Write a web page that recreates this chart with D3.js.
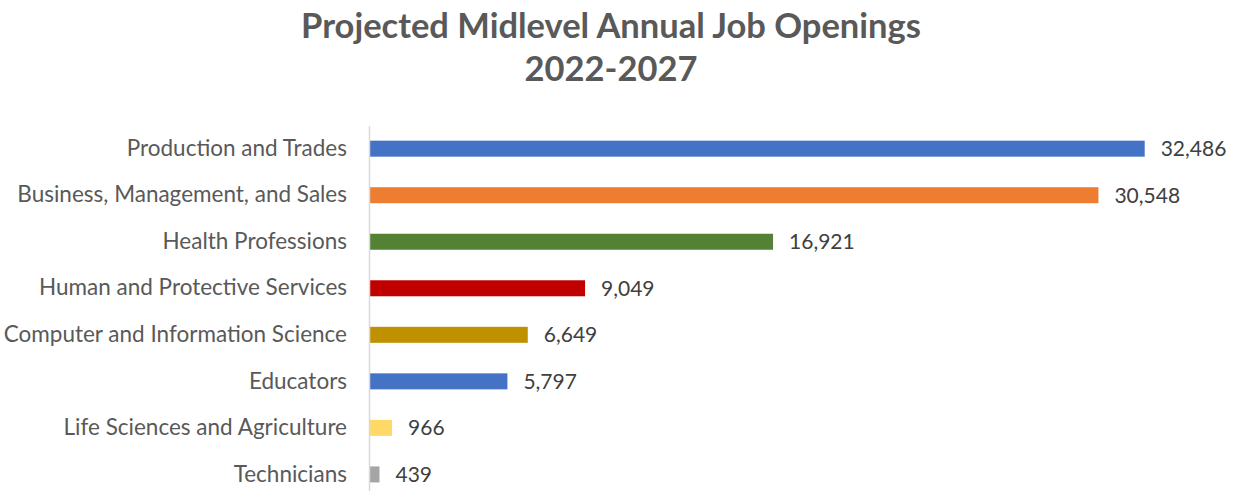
<!DOCTYPE html>
<html>
<head>
<meta charset="utf-8">
<script src="https://cdn.jsdelivr.net/npm/d3@7"></script>
<style>
 body { margin: 0; background: #fff; }
 svg { display: block; }
</style>
</head>
<body>
<div id="chart"></div>
<script>
var categories = ["Production and Trades", "Business, Management, and Sales", "Health Professions",
  "Human and Protective Services", "Computer and Information Science", "Educators",
  "Life Sciences and Agriculture", "Technicians"];
var openings = [32486, 30548, 16921, 9049, 6649, 5797, 966, 439];
var barColors = ["#4472C4", "#ED7D31", "#548235", "#C00000", "#BF9000", "#4472C4", "#FFD966", "#A5A5A5"];
var titleLines = ["Projected Midlevel Annual Job Openings", "2022-2027"];

var width = 1234, height = 491;
var axisX = 369;

var data = categories.map(function(c, i) { return {name: c, value: openings[i], color: barColors[i]}; });

var x = d3.scaleLinear()
  .domain([0, 32486])
  .range([axisX, 1144.7]);
var y = d3.scaleBand()
  .domain(categories)
  .range([125.4, 497.7])
  .paddingInner(0.656)
  .paddingOuter(0.328);

var svg = d3.select("#chart").append("svg")
  .attr("width", width)
  .attr("height", height);

// title
svg.selectAll(".title")
  .data(titleLines)
  .enter().append("text")
  .attr("class", "title")
  .attr("x", 611)
  .attr("y", function(d, i) { return 38 + i * 43; })
  .attr("text-anchor", "middle")
  .style("font-family", "Lato, 'Open Sans', sans-serif")
  .style("font-weight", "bold")
  .style("font-size", "34.5px")
  .style("fill", "#595959")
  .text(function(d) { return d; });

// bars
svg.selectAll(".bar")
  .data(data)
  .enter().append("rect")
  .attr("class", "bar")
  .attr("x", x(0))
  .attr("y", function(d) { return y(d.name); })
  .attr("width", function(d) { return x(d.value) - x(0); })
  .attr("height", y.bandwidth())
  .style("fill", function(d) { return d.color; });

// value labels
svg.selectAll(".val")
  .data(data)
  .enter().append("text")
  .attr("class", "val")
  .attr("x", function(d) { return x(d.value) + 16; })
  .attr("y", function(d) { return y(d.name) + y.bandwidth() / 2; })
  .attr("dy", "0.35em")
  .style("font-family", "Lato, 'Open Sans', sans-serif")
  .style("font-size", "21px")
  .style("fill", "#404040")
  .text(function(d) { return d3.format(",")(d.value); });

// y axis
var yAxis = svg.append("g")
  .attr("transform", "translate(" + axisX + ",0)")
  .call(d3.axisLeft(y).tickSize(0).tickPadding(22));
yAxis.select(".domain")
  .attr("stroke", "#d9d9d9")
  .attr("stroke-width", 1.5);
yAxis.selectAll("text")
  .style("font-family", "Lato, 'Open Sans', sans-serif")
  .style("font-size", "22.5px")
  .style("fill", "#595959");
</script>
</body>
</html>
